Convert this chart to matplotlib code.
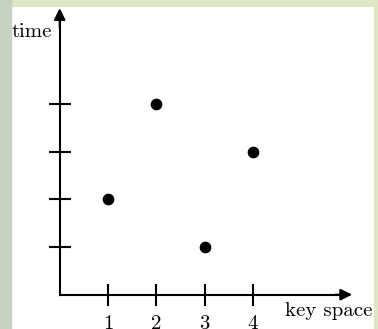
import matplotlib
matplotlib.use("Agg")
import matplotlib.pyplot as plt
from matplotlib.patches import Rectangle

# data
keys = [1, 2, 3, 4]
times = [2, 4, 1, 3]
x_ticks = [1, 2, 3, 4]
x_labels = ["1", "2", "3", "4"]
y_ticks = [1, 2, 3, 4]

plt.rcParams["font.family"] = ["cmr10", "DejaVu Serif"]

fig = plt.figure(figsize=(3.78, 3.29), dpi=100)
fig.patch.set_facecolor("#dce7c4")
# greyish strip on the left of the slide
fig.patches.append(Rectangle((0, 0), 11 / 378, 1, transform=fig.transFigure,
                             color="#c6d2c2", zorder=0))

ax = fig.add_axes([11 / 378, 0.0, 363 / 378, 322 / 329])
ax.set_facecolor("white")
ax.set_xlim(-1.008, 6.503)
ax.set_ylim(-0.72, 6.035)

for s in ["top", "right"]:
    ax.spines[s].set_visible(False)
ax.spines["left"].set_position(("data", 0))
ax.spines["bottom"].set_position(("data", 0))
ax.spines["left"].set_bounds(0, 5.85)
ax.spines["bottom"].set_bounds(0, 5.9)
for s in ["left", "bottom"]:
    ax.spines[s].set_linewidth(1.5)

# arrow heads
ax.annotate("", xy=(6.05, 0), xytext=(5.7, 0),
            arrowprops=dict(arrowstyle="-|>", color="black", lw=1.5,
                            mutation_scale=17, shrinkA=0, shrinkB=0))
ax.annotate("", xy=(0, 6.01), xytext=(0, 5.6),
            arrowprops=dict(arrowstyle="-|>", color="black", lw=1.5,
                            mutation_scale=17, shrinkA=0, shrinkB=0))

ax.set_xticks(x_ticks)
ax.set_xticklabels(x_labels, fontsize=15)
ax.set_yticks(y_ticks)
ax.set_yticklabels([])
ax.tick_params(direction="inout", length=16.5, width=1.5, pad=6.5)

ax.scatter(keys, times, s=55, color="black", zorder=3)

ax.text(-0.99, 5.41, "time", fontsize=15, ha="left", va="baseline")
ax.text(6.47, -0.447, "key space", fontsize=15, ha="right", va="baseline")

fig.savefig("out.png", dpi=100, facecolor=fig.get_facecolor())
